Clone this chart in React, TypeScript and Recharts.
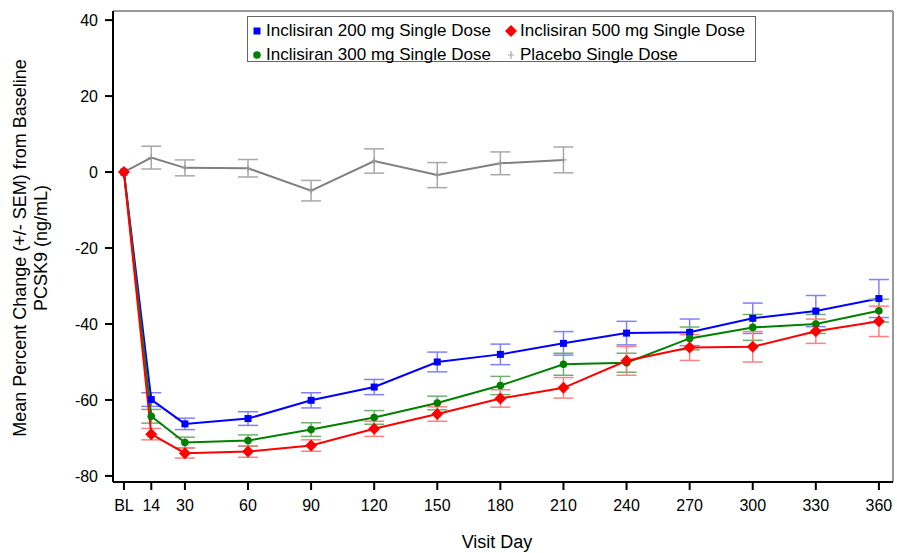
import React from "react"
import { LineChart, Line, XAxis, YAxis, ErrorBar, ReferenceLine } from "recharts"

const days = [1, 14, 30, 60, 90, 120, 150, 180, 210, 240, 270, 300, 330, 360]
const placeboDays = [1, 14, 30, 60, 90, 120, 150, 180, 210]
const xTicks = [1, 14, 30, 60, 90, 120, 150, 180, 210, 240, 270, 300, 330, 360]
const yTicks = [-80, -60, -40, -20, 0, 20, 40]

const dose200 = [0, -59.9, -66.3, -64.9, -60.1, -56.6, -50.0, -48.0, -45.1, -42.4, -42.2, -38.5, -36.6, -33.3]
const dose200Sem = [0, 1.8, 1.5, 1.8, 2.0, 2.0, 2.6, 2.7, 3.1, 3.1, 3.5, 4.0, 4.1, 5.0]
const dose300 = [0, -64.3, -71.2, -70.7, -67.8, -64.6, -60.8, -56.2, -50.6, -50.2, -43.8, -40.9, -40.0, -36.5]
const dose300Sem = [0, 1.8, 1.4, 1.5, 1.8, 1.8, 1.8, 2.4, 2.9, 2.5, 3.0, 3.4, 2.5, 3.0]
const dose500 = [0, -69.0, -74.0, -73.6, -72.0, -67.6, -63.7, -59.6, -56.8, -49.7, -46.2, -46.0, -41.9, -39.3]
const dose500Sem = [0, 1.5, 1.3, 1.5, 1.5, 2.0, 1.9, 2.3, 2.7, 3.8, 3.4, 4.0, 3.2, 4.0]
const placebo = [0, 3.8, 1.1, 1.0, -4.9, 2.9, -0.8, 2.3, 3.2]
const placeboSem = [0, 3.0, 2.1, 2.3, 2.7, 3.2, 3.3, 3.0, 3.4]

const build = (x: number[], v: number[], e: number[]) =>
  x.map((d, i) => ({ day: d, value: v[i], err: e[i] > 0 ? e[i] : undefined }))

const data200 = build(days, dose200, dose200Sem)
const data300 = build(days, dose300, dose300Sem)
const data500 = build(days, dose500, dose500Sem)
const dataPlacebo = build(placeboDays, placebo, placeboSem)

const FONT = "'Liberation Sans', Arial, sans-serif"

const Square = (p: any) => (
  <rect key={p.key ?? p.index} x={p.cx - 3.5} y={p.cy - 3.5} width={7} height={7} fill="#0000ff" />
)
const Circle = (p: any) => <circle key={p.key ?? p.index} cx={p.cx} cy={p.cy} r={3.8} fill="#008000" />
const Diamond = (p: any) => (
  <path
    key={p.key ?? p.index}
    d={`M${p.cx},${p.cy - 6}L${p.cx + 6},${p.cy}L${p.cx},${p.cy + 6}L${p.cx - 6},${p.cy}Z`}
    fill="#ff0000"
  />
)
const Plus = (p: any) => (
  <path
    key={p.key ?? p.index}
    d={`M${p.cx - 3},${p.cy}H${p.cx + 3}M${p.cx},${p.cy - 3}V${p.cy + 3}`}
    stroke="#999999"
    strokeWidth={1.2}
  />
)

function LegendIcon({ kind }: { kind: string }) {
  return (
    <svg width={14} height={14} style={{ display: "block" }}>
      {kind === "square" && <rect x={3.5} y={3.5} width={7} height={7} fill="#0000ff" />}
      {kind === "circle" && <circle cx={7} cy={7} r={3.8} fill="#008000" />}
      {kind === "diamond" && <path d="M7,1L13,7L7,13L1,7Z" fill="#ff0000" />}
      {kind === "plus" && <path d="M4,7H10M7,3V11" stroke="#aaaaaa" strokeWidth={1.2} />}
    </svg>
  )
}

const legendItems = [
  { label: "Inclisiran 200 mg Single Dose", kind: "square", x: 2, y: 5 },
  { label: "Inclisiran 500 mg Single Dose", kind: "diamond", x: 256, y: 5 },
  { label: "Inclisiran 300 mg Single Dose", kind: "circle", x: 2, y: 29 },
  { label: "Placebo Single Dose", kind: "plus", x: 256, y: 29 },
]

const yLabel = () => (
  <g>
    <text
      x={20}
      y={248}
      transform="rotate(-90 20 248)"
      textAnchor="middle"
      dominantBaseline="central"
      fontSize={18}
      fontFamily={FONT}
      fill="#000"
    >
      Mean Percent Change (+/- SEM) from Baseline
    </text>
    <text
      x={41}
      y={248}
      transform="rotate(-90 41 248)"
      textAnchor="middle"
      dominantBaseline="central"
      fontSize={18}
      fontFamily={FONT}
      fill="#000"
    >
      PCSK9 (ng/mL)
    </text>
  </g>
)

export default function App() {
  const tickStyle = { fill: "#000", fontSize: 16, fontFamily: FONT }
  return (
    <div style={{ position: "absolute", left: 0, top: 0, width: 897, height: 553, background: "#fff", fontFamily: FONT }}>
      <LineChart width={897} height={553} margin={{ top: 11, right: 4, left: 0, bottom: 0 }}>
        <XAxis
          dataKey="day"
          type="number"
          domain={[-4.2, 366.7]}
          allowDataOverflow
          ticks={xTicks}
          tickFormatter={(d: number) => (d === 1 ? "BL" : String(d))}
          height={71}
          tickSize={8}
          tickMargin={10}
          tick={tickStyle}
          axisLine={{ stroke: "#000", strokeWidth: 2 }}
          tickLine={{ stroke: "#000", strokeWidth: 2 }}
          label={{ value: "Visit Day", position: "insideBottom", offset: 5, dx: -6, fill: "#000", fontSize: 18, fontFamily: FONT }}
        />
        <YAxis
          type="number"
          domain={[-81.6, 42.4]}
          allowDataOverflow
          ticks={yTicks}
          width={113}
          tickSize={8}
          tickMargin={7}
          tick={tickStyle}
          axisLine={{ stroke: "#000", strokeWidth: 2 }}
          tickLine={{ stroke: "#000", strokeWidth: 2 }}
          label={{ content: yLabel }}
        />
        <ReferenceLine y={42.4} stroke="#999" strokeWidth={2} />
        <ReferenceLine x={366.7} stroke="#999" strokeWidth={2} />
        <Line
          data={dataPlacebo}
          dataKey="value"
          stroke="#808080"
          strokeWidth={2}
          dot={Plus}
          activeDot={false}
          isAnimationActive={false}
        >
          <ErrorBar dataKey="err" width={10} stroke="#a8a8a8" strokeWidth={1.5} direction="y" />
        </Line>
        <Line
          data={data200}
          dataKey="value"
          stroke="#0000ff"
          strokeWidth={2}
          dot={Square}
          activeDot={false}
          isAnimationActive={false}
        >
          <ErrorBar dataKey="err" width={10} stroke="#8080ff" strokeWidth={1.5} direction="y" />
        </Line>
        <Line
          data={data300}
          dataKey="value"
          stroke="#008000"
          strokeWidth={2}
          dot={Circle}
          activeDot={false}
          isAnimationActive={false}
        >
          <ErrorBar dataKey="err" width={10} stroke="#70b070" strokeWidth={1.5} direction="y" />
        </Line>
        <Line
          data={data500}
          dataKey="value"
          stroke="#ff0000"
          strokeWidth={2}
          dot={Diamond}
          activeDot={false}
          isAnimationActive={false}
        >
          <ErrorBar dataKey="err" width={10} stroke="#ff8080" strokeWidth={1.5} direction="y" />
        </Line>
      </LineChart>
      <div
        style={{
          position: "absolute",
          left: 247,
          top: 16,
          width: 509,
          height: 46,
          border: "1px solid #666",
          background: "#fff",
          boxSizing: "border-box",
        }}
      >
        {legendItems.map((it) => (
          <div
            key={it.label}
            style={{
              position: "absolute",
              left: it.x,
              top: it.y,
              display: "flex",
              alignItems: "center",
              gap: 2,
              fontSize: 17,
              lineHeight: "17px",
              whiteSpace: "nowrap",
              color: "#000",
            }}
          >
            <LegendIcon kind={it.kind} />
            <span>{it.label}</span>
          </div>
        ))}
      </div>
    </div>
  )
}
